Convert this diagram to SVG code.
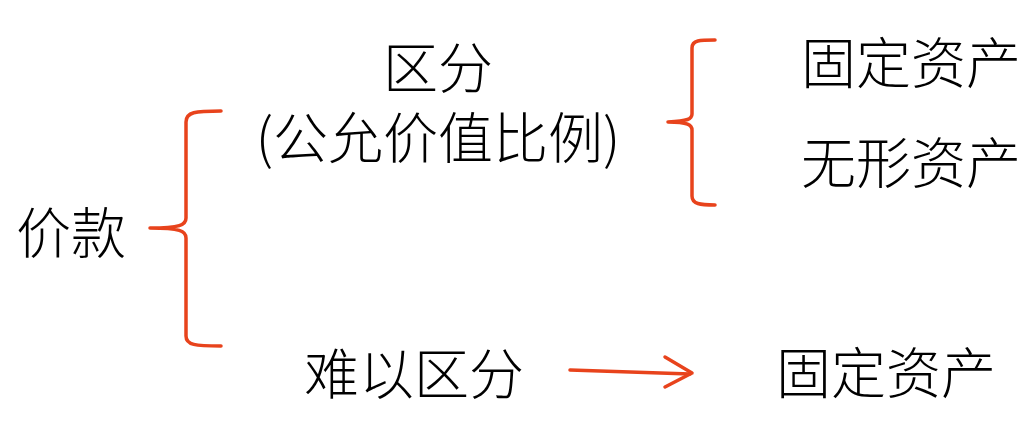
<svg xmlns="http://www.w3.org/2000/svg" width="1034" height="439" viewBox="0 0 1034 439">
<style>
.t{font-family:"Noto Sans CJK SC","Liberation Sans",sans-serif;font-size:55px;font-weight:300;fill:#000;text-anchor:middle}
.c{fill:none;stroke:#E8431C;stroke-width:3.5;stroke-linecap:round;stroke-linejoin:round}
</style>
<rect width="1034" height="439" fill="#fff"/>
<g id="node-price"><text class="t" x="71" y="253">价款</text></g>
<g id="node-distinguish"><text class="t"><tspan x="438" y="88">区分</tspan><tspan x="438" y="158">(公允价值比例)</tspan></text></g>
<g id="node-fixed1"><text class="t" x="911" y="83">固定资产</text></g>
<g id="node-intangible"><text class="t" x="911" y="183">无形资产</text></g>
<g id="node-hard"><text class="t" x="414" y="394">难以区分</text></g>
<g id="node-fixed2"><text class="t" x="886" y="393">固定资产</text></g>
<g id="connectors">
<path class="c" d="M221 111 C195 111 186 112 186 122 L186 218 C186 225 180 228 150 228 C180 228 186 231 186 238 L186 336 C186 345 195 346 221 346"/>
<path class="c" d="M715 40 C700 40 692 40 692 48 L692 114 C692 119 688 121 668 122 C688 122 692 125 692 130 L692 196 C692 204 700 205 715 205"/>
<path class="c" d="M570 370 L690 374"/>
<path class="c" d="M665 357 L692 373 L665 387"/>
</g>
</svg>
